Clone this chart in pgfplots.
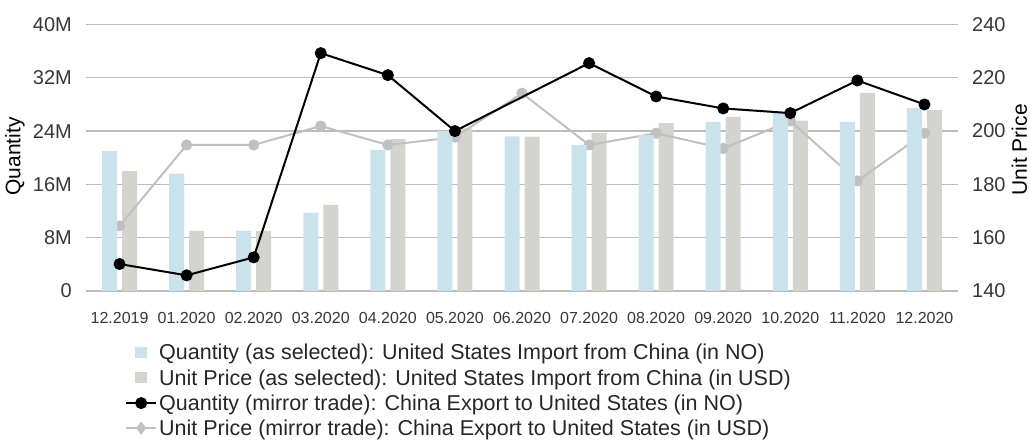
\documentclass[border=0pt]{standalone}
\usepackage{pgfplots}
\pgfplotsset{compat=1.18}
\usepackage{fontspec}
\setmainfont{Liberation Sans}
\definecolor{qblue}{RGB}{201,226,236}
\definecolor{pgray}{RGB}{212,212,206}
\definecolor{lgray}{RGB}{192,192,192}
\definecolor{gridc}{RGB}{188,188,188}
\definecolor{tickc}{RGB}{55,55,55}
\pgfplotsset{
  barleg/.style={legend image code/.code={\path (0pt,0pt) (30pt,0pt);\fill[##1] (9pt,-5.5pt) rectangle (21pt,5.5pt);}},
  lineleg/.style={legend image code/.code={\draw[mark repeat=2,mark phase=2,##1] plot coordinates {(0pt,0pt) (15pt,0pt) (30pt,0pt)};}},
}
\begin{document}
\begin{tikzpicture}
\path[use as bounding box] (-86pt,-155pt) rectangle (944pt,291pt);
% price axis (right)
\begin{axis}[
  at={(0pt,0pt)}, anchor=south west,
  scale only axis, width=872pt, height=266.5pt,
  xmin=-0.5, xmax=12.5, ymin=140, ymax=240,
  hide x axis,
  axis y line*=right,
  y axis line style={draw=none},
  major tick length=0pt,
  ytick={140,160,180,200,220,240},
  yticklabels={140,160,180,200,220,240},
  ymajorgrids, grid style={gridc, line width=1.2pt},
  yticklabel style={font=\fontsize{20}{24}\selectfont, text=tickc, anchor=west, inner sep=0pt, xshift=14pt},
  ylabel={Unit Price},
  ylabel style={font=\fontsize{21}{24}\selectfont, at={(axis description cs:1.0705,0.53)}, anchor=center, rotate=0},
]
\addplot[ybar, bar width=15pt, bar shift=10pt, fill=pgray, draw=none, forget plot] coordinates {
(0,185.0) (1,162.6) (2,162.6) (3,172.3) (4,197.0) (5,201.0) (6,197.9) (7,199.3) (8,203.0) (9,205.3) (10,203.9) (11,214.3) (12,207.9)};
\addplot[color=lgray, line width=2pt, line join=round, mark=*, mark size=4.6pt, mark options={fill=lgray, draw=none}, forget plot] coordinates {
(0,164.4) (1,194.8) (2,194.8) (3,201.9) (4,194.8) (5,197.7) (6,214.2) (7,194.8) (8,199.2) (9,193.5) (10,203.8) (11,181.3) (12,199.2)};
\end{axis}
% quantity axis (left)
\begin{axis}[
  at={(0pt,0pt)}, anchor=south west,
  scale only axis, width=872pt, height=266.5pt,
  xmin=-0.5, xmax=12.5, ymin=0, ymax=40,
  axis x line*=bottom, axis y line*=left,
  axis line style={draw=none},
  major tick length=0pt,
  xtick={0,1,...,12},
  xticklabels={12.2019,01.2020,02.2020,03.2020,04.2020,05.2020,06.2020,07.2020,08.2020,09.2020,10.2020,11.2020,12.2020},
  xticklabel style={font=\fontsize{16}{19}\selectfont, text=tickc, anchor=north, inner sep=0pt, yshift=-21pt},
  ytick={0,8,16,24,32,40},
  yticklabels={0,8M,16M,24M,32M,40M},
  yticklabel style={font=\fontsize{20}{24}\selectfont, text=tickc, anchor=east, inner sep=0pt, xshift=-14pt},
  ylabel={Quantity},
  ylabel style={font=\fontsize{21}{24}\selectfont, at={(axis description cs:-0.0814,0.505)}, anchor=center},
  legend cell align=left,
  legend style={at={(axis description cs:0.0447,-0.192)}, anchor=north west, draw=none, fill=none,
    font=\fontsize{21.5}{24}\selectfont, text=black!85, inner sep=0pt, row sep=4pt,
    nodes={inner sep=2pt}},
]
\addplot[ybar, bar width=15pt, bar shift=-10pt, fill=qblue, draw=none, barleg] coordinates {
(0,21.0) (1,17.6) (2,9.05) (3,11.75) (4,21.2) (5,24.0) (6,23.2) (7,21.9) (8,23.4) (9,25.4) (10,26.9) (11,25.4) (12,27.5)};
\addlegendentry{Quantity (as selected): United States Import from China (in NO)}
\addlegendimage{barleg, fill=pgray, draw=none}
\addlegendentry{Unit Price (as selected): United States Import from China (in USD)}
\addplot[color=black, line width=2pt, line join=round, mark=*, mark size=5pt, mark options={fill=black, draw=none}, lineleg] coordinates {
(0,4.05) (1,2.35) (2,5.05) (3,35.7) (4,32.4) (5,24.0) (7,34.2) (8,29.2) (9,27.4) (10,26.7) (11,31.6) (12,28.0)};
\addlegendentry{Quantity (mirror trade): China Export to United States (in NO)}
\addlegendimage{lineleg, color=lgray, line width=2pt, mark=diamond*, mark size=5pt, mark options={fill=lgray, draw=none}}
\addlegendentry{Unit Price (mirror trade): China Export to United States (in USD)}
\end{axis}
\end{tikzpicture}
\end{document}
